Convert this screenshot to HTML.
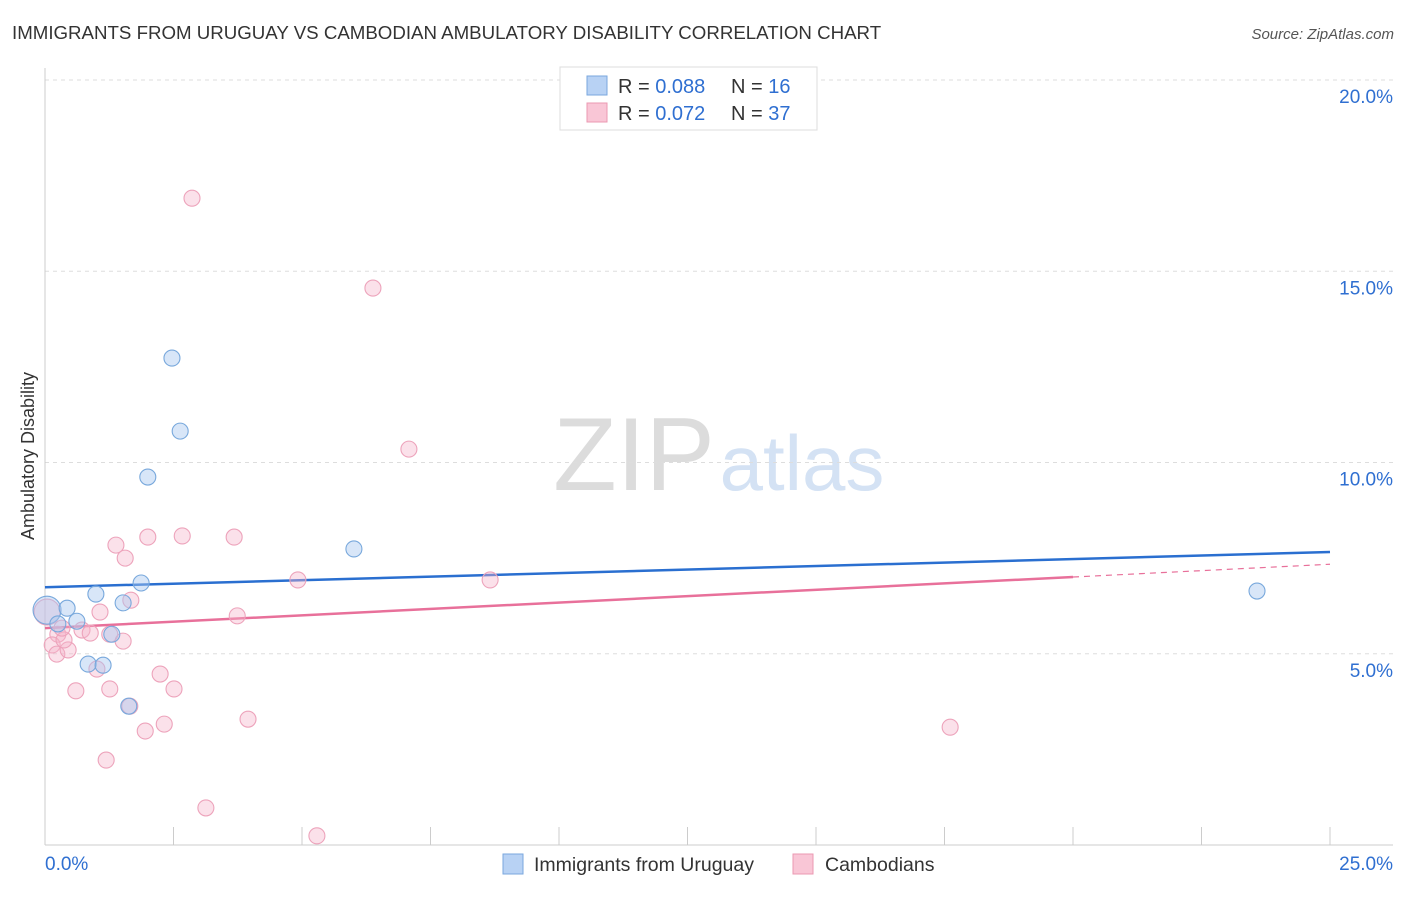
<!DOCTYPE html>
<html><head><meta charset="utf-8"><style>
body{margin:0;background:#fff;font-family:"Liberation Sans",sans-serif;}
svg text{font-family:"Liberation Sans",sans-serif;}
</style></head><body>
<svg id="chart" width="1406" height="892" viewBox="0 0 1406 892" xmlns="http://www.w3.org/2000/svg">
<text x="12" y="39" font-size="18.7" fill="#333">IMMIGRANTS FROM URUGUAY VS CAMBODIAN AMBULATORY DISABILITY CORRELATION CHART</text>
<text x="1394" y="39" font-size="15" fill="#555" text-anchor="end" font-style="italic">Source: ZipAtlas.com</text>
<g>
<text x="634" y="490" font-size="104" fill="#dcdcdc" text-anchor="middle" font-family="Liberation Serif, serif">ZIP</text>
<text x="802" y="490" font-size="78" fill="#d4e2f4" text-anchor="middle">atlas</text>
</g>
<g id="grid"></g>
<g id="axes"></g>
<g id="lines"></g>
<g id="points"></g>
<text transform="translate(34,456) rotate(-90)" font-size="18" fill="#333" text-anchor="middle">Ambulatory Disability</text>
<g>
<rect x="560" y="67" width="257" height="63" fill="#fff" stroke="#ddd"/>
<rect x="587" y="76" width="20" height="19" fill="#b8d2f4" stroke="#7aa7de"/>
<rect x="587" y="103" width="20" height="19" fill="#f9c6d6" stroke="#eb98b2"/>
<text x="618" y="93" font-size="20" fill="#333">R = <tspan fill="#2f6fd1">0.088</tspan></text>
<text x="731" y="93" font-size="20" fill="#333">N = <tspan fill="#2f6fd1">16</tspan></text>
<text x="618" y="120" font-size="20" fill="#333">R = <tspan fill="#2f6fd1">0.072</tspan></text>
<text x="731" y="120" font-size="20" fill="#333">N = <tspan fill="#2f6fd1">37</tspan></text>
</g>
<g>
<rect x="503" y="854" width="20" height="20" fill="#b8d2f4" stroke="#7aa7de"/>
<text x="534" y="871" font-size="19.5" fill="#333">Immigrants from Uruguay</text>
<rect x="793" y="854" width="20" height="20" fill="#f9c6d6" stroke="#eb98b2"/>
<text x="825" y="871" font-size="19.5" fill="#333">Cambodians</text>
</g>
</svg>
<script>
const yTicks=[5,10,15,20];
const yTickLabels=["5.0%","10.0%","15.0%","20.0%"];
const xTicks=[0,2.5,5,7.5,10,12.5,15,17.5,20,22.5,25];
const blueX=[0.04,0.25,0.43,0.62,0.84,0.99,1.13,1.30,1.52,1.63,1.87,2.00,2.47,2.63,6.01,23.58];
const blueY=[6.14,5.78,6.19,5.85,4.73,6.56,4.70,5.51,6.33,3.63,6.85,9.62,12.73,10.82,7.74,6.64];
const pinkX=[2.86,6.38,7.08,1.38,1.56,2.00,2.67,3.68,4.92,8.66,1.07,1.67,3.74,0.25,0.72,0.88,1.26,1.52,0.14,0.23,0.45,1.01,0.60,1.26,2.24,2.51,1.65,2.32,1.95,3.95,1.19,3.13,5.29,17.61,0.04,0.37,0.33];
const pinkY=[16.91,14.56,10.35,7.84,7.50,8.05,8.08,8.05,6.93,6.93,6.09,6.40,5.99,5.51,5.62,5.54,5.51,5.33,5.23,4.99,5.10,4.60,4.03,4.08,4.47,4.08,3.63,3.16,2.98,3.29,2.22,0.97,0.24,3.08,6.09,5.36,5.67];
const blueTrend=[6.74,7.66];
const pinkTrend=[5.67,7.34];
const pinkSolidEnd=20;
const NS="http://www.w3.org/2000/svg";
const X=v=>45+v*(1285/25);
const Y=v=>845-v*(765/20);
function mk(tag,attrs,parent){const e=document.createElementNS(NS,tag);for(const k in attrs)e.setAttribute(k,attrs[k]);document.getElementById(parent).appendChild(e);return e;}
yTicks.forEach((t,i)=>{
 const g=mk('line',{x1:45,x2:1393,y1:Y(t),y2:Y(t),stroke:'#ddd','stroke-dasharray':'4,4'},'grid');
 
 
 const l=mk('text',{x:1393,y:Y(t)+23,'font-size':19,fill:'#2f6fd1','text-anchor':'end'},'grid');
 l.textContent=yTickLabels[i];
 
 
});
const ax=mk('line',{x1:45,x2:45,y1:68,y2:845,stroke:'#ccc'},'axes');


const bx=mk('line',{x1:45,x2:1393,y1:845,y2:845,stroke:'#ccc'},'axes');


xTicks.forEach(t=>{
 const k=mk('line',{x1:X(t),x2:X(t),y1:827,y2:845,stroke:'#ccc'},'axes');
 
 
});
const x0=mk('text',{x:45,y:870,'font-size':19,fill:'#2f6fd1'},'axes');x0.textContent='0.0%';


const x1=mk('text',{x:1393,y:870,'font-size':19,fill:'#2f6fd1','text-anchor':'end'},'axes');x1.textContent='25.0%';


const bl=mk('line',{x1:X(0),y1:Y(blueTrend[0]),x2:X(25),y2:Y(blueTrend[1]),stroke:'#2a6fd0','stroke-width':2.5},'lines');


const pm=pinkTrend[0]+(pinkTrend[1]-pinkTrend[0])*pinkSolidEnd/25;
const pl=mk('line',{x1:X(0),y1:Y(pinkTrend[0]),x2:X(pinkSolidEnd),y2:Y(pm),stroke:'#e8709a','stroke-width':2.5},'lines');


const pd=mk('line',{x1:X(pinkSolidEnd),y1:Y(pm),x2:X(25),y2:Y(pinkTrend[1]),stroke:'#e8709a','stroke-width':1.2,'stroke-dasharray':'6,5'},'lines');


pinkX.forEach((v,i)=>{
 const r=(i===34)?13:8;
 const c=mk('circle',{cx:X(v),cy:Y(pinkY[i]),r:r,fill:'rgba(246,180,202,0.4)',stroke:'#eda3bb','stroke-width':1.1},'points');
 
 
});
blueX.forEach((v,i)=>{
 const r=(i===0)?14:8;
 const c=mk('circle',{cx:X(v),cy:Y(blueY[i]),r:r,fill:'rgba(168,200,240,0.45)',stroke:'#78a8dc','stroke-width':1.1},'points');
 
 
});
</script>
</body></html>
